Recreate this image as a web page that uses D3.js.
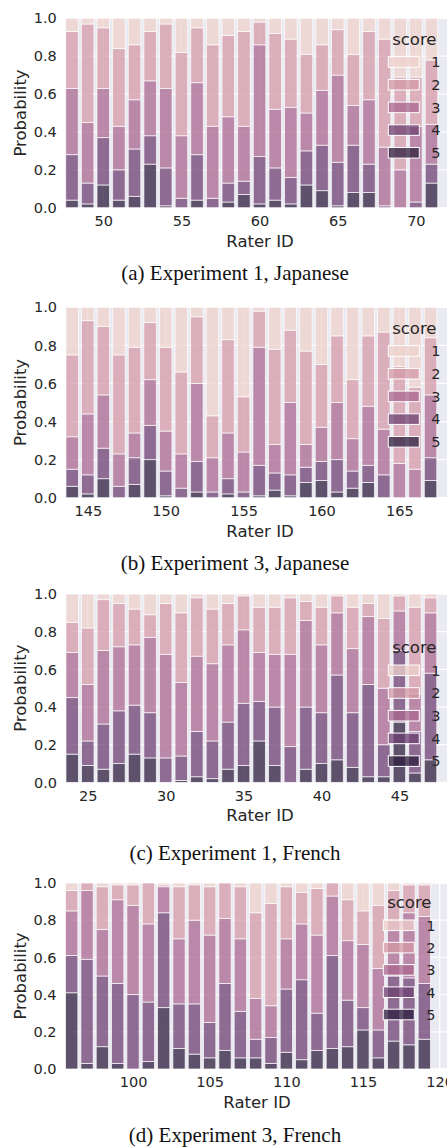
<!DOCTYPE html>
<html>
<head>
<meta charset="utf-8">
<script src="https://cdn.jsdelivr.net/npm/d3@7"></script>
<style>
  body { margin: 0; background: #fff; }
  svg { display: block; }
</style>
</head>
<body>
<svg id="fig" width="447" height="1147"></svg>
<script>
// ---- data ----
const scores = [1, 2, 3, 4, 5];
const yTicks = [0, 0.2, 0.4, 0.6, 0.8, 1.0];

// (a) Experiment 1, Japanese
const ratersA = [48,49,50,51,52,53,54,55,56,57,58,59,60,61,62,63,64,65,66,67,68,69,70,71];
const aScore1 = [.07,.03,.05,.16,.14,.07,.03,.18,.05,.14,.09,.07,.02,.08,.11,.19,.14,.06,.19,.07,.11,.31,.31,.22];
const aScore2 = [.30,.52,.32,.41,.29,.26,.34,.44,.29,.43,.43,.50,.12,.40,.36,.31,.24,.24,.27,.36,.57,.49,.26,.34];
const aScore3 = [.35,.32,.26,.23,.26,.29,.42,.33,.38,.38,.35,.29,.59,.31,.37,.20,.29,.46,.21,.34,.31,.20,.40,.21];
const aScore4 = [.24,.11,.25,.16,.25,.15,.20,.05,.24,.05,.10,.07,.25,.17,.14,.18,.24,.23,.25,.15,.01,.00,.03,.10];
const aScore5 = [.04,.02,.12,.04,.06,.23,.01,.00,.04,.00,.03,.07,.02,.04,.02,.12,.09,.01,.08,.08,.00,.00,.00,.13];

// (b) Experiment 3, Japanese
const ratersB = [144,145,146,147,148,149,150,151,152,153,154,155,156,157,158,159,160,161,162,163,164,165,166,167];
const bScore1 = [.25,.07,.10,.25,.21,.08,.21,.34,.05,.57,.17,.47,.02,.22,.12,.23,.30,.15,.38,.15,.13,.31,.42,.16];
const bScore2 = [.43,.49,.36,.52,.45,.30,.44,.43,.35,.22,.49,.29,.19,.50,.38,.49,.33,.35,.31,.37,.51,.51,.43,.30];
const bScore3 = [.17,.32,.28,.17,.13,.24,.21,.18,.41,.18,.24,.21,.62,.15,.38,.12,.18,.30,.17,.31,.24,.18,.15,.33];
const bScore4 = [.09,.10,.16,.06,.14,.18,.13,.05,.16,.03,.08,.03,.16,.09,.11,.08,.10,.17,.09,.09,.12,.00,.00,.12];
const bScore5 = [.06,.02,.10,.00,.07,.20,.01,.00,.03,.00,.02,.00,.01,.04,.01,.08,.09,.03,.05,.08,.00,.00,.00,.09];

// (c) Experiment 1, French
const ratersC = [24,25,26,27,28,29,30,31,32,33,34,35,36,37,38,39,40,41,42,43,44,45,46,47];
const cScore1 = [.15,.18,.03,.05,.08,.11,.05,.10,.02,.08,.05,.01,.07,.07,.02,.04,.07,.01,.07,.05,.13,.01,.07,.02];
const cScore2 = [.16,.30,.27,.23,.19,.12,.27,.37,.31,.29,.22,.18,.24,.25,.30,.10,.20,.09,.22,.07,.37,.08,.46,.08];
const cScore3 = [.24,.30,.39,.34,.32,.40,.55,.39,.40,.41,.41,.39,.26,.28,.49,.46,.36,.33,.34,.36,.30,.21,.20,.32];
const cScore4 = [.30,.13,.24,.28,.26,.24,.13,.13,.24,.20,.25,.33,.21,.31,.19,.33,.27,.45,.29,.49,.17,.38,.22,.46];
const cScore5 = [.15,.09,.07,.10,.15,.13,.00,.01,.03,.02,.07,.09,.22,.09,.00,.07,.10,.12,.08,.03,.03,.32,.05,.12];

// (d) Experiment 3, French
const ratersD = [96,97,98,99,100,101,102,103,104,105,106,107,108,109,110,111,112,113,114,115,116,117,118,119];
const dScore1 = [.04,.00,.02,.01,.01,.00,.01,.02,.01,.02,.00,.02,.16,.11,.02,.05,.03,.00,.09,.15,.12,.04,.01,.01];
const dScore2 = [.11,.04,.23,.08,.11,.22,.01,.28,.19,.26,.19,.28,.46,.55,.28,.17,.25,.07,.22,.18,.34,.16,.15,.17];
const dScore3 = [.24,.37,.25,.45,.48,.42,.14,.35,.45,.47,.35,.39,.22,.17,.27,.30,.42,.32,.32,.34,.33,.30,.35,.36];
const dScore4 = [.20,.56,.38,.43,.40,.32,.51,.24,.27,.19,.36,.25,.10,.14,.34,.43,.20,.50,.25,.12,.15,.35,.36,.30];
const dScore5 = [.41,.03,.12,.03,.00,.04,.33,.11,.08,.06,.10,.06,.06,.03,.09,.05,.10,.11,.12,.21,.06,.15,.13,.16];

// ---- layout ----
const W = 447;
const panels = [
  { raters: ratersA, probs: [aScore1, aScore2, aScore3, aScore4, aScore5], ticks: [50,55,60,65,70],
    caption: "(a) Experiment 1, Japanese", top: 18.3, bottom: 207.7, c0: 72.0, step: 15.63,
    labelX: 260, capY: 280, legX: 388.3, legTop: 38.4, legStep: 22.7, titleY: 26.7 },
  { raters: ratersB, probs: [bScore1, bScore2, bScore3, bScore4, bScore5], ticks: [145,150,155,160,165],
    caption: "(b) Experiment 3, Japanese", top: 307.3, bottom: 497.7, c0: 72.2, step: 15.58,
    labelX: 260, capY: 570, legX: 388.3, legTop: 38.4, legStep: 22.7, titleY: 26.7 },
  { raters: ratersC, probs: [cScore1, cScore2, cScore3, cScore4, cScore5], ticks: [25,30,35,40,45],
    caption: "(c) Experiment 1, French", top: 594.0, bottom: 782.4, c0: 72.2, step: 15.58,
    labelX: 260, capY: 860, legX: 388.3, legTop: 71.0, legStep: 22.7, titleY: 59.3 },
  { raters: ratersD, probs: [dScore1, dScore2, dScore3, dScore4, dScore5], ticks: [100,105,110,115,120],
    caption: "(d) Experiment 3, French", top: 883.0, bottom: 1069.0, c0: 71.7, step: 15.33,
    labelX: 257, capY: 1142, legX: 383.3, legTop: 37.0, legStep: 22.3, titleY: 25.3 }
];

// seaborn default cubehelix cmap (start 0, rot .4, hue .8, light .85, dark .15)
function cubehelix(l) {
  const a = 0.8 * l * (1 - l) / 2;
  const phi = 2 * Math.PI * (0.4 * l);
  const c = Math.cos(phi), s = Math.sin(phi);
  const cl = v => Math.max(0, Math.min(1, v)) * 255;
  return d3.rgb(cl(l + a * (-0.14861 * c + 1.78277 * s)),
                cl(l + a * (-0.29227 * c - 0.90649 * s)),
                cl(l + a * (1.97294 * c))).formatHex();
}
const color = d3.scaleOrdinal()
  .domain(scores)
  .range(scores.map(k => cubehelix(0.85 - 0.7 * (k - 1) / 4)));

const BG = "#eaeaf2", TXT = "#262626";
const svg = d3.select("#fig");

panels.forEach(function(p) {
  const r0 = p.raters[0];
  const x = d3.scaleLinear().domain([r0, r0 + 1]).range([p.c0, p.c0 + p.step]);
  const y = d3.scaleLinear().domain([0, 1]).range([p.bottom, p.top]);
  const left = x(r0 - 0.4);
  const g = svg.append("g");

  g.append("rect")
    .attr("x", left).attr("y", p.top)
    .attr("width", W - left + 10).attr("height", p.bottom - p.top)
    .attr("fill", BG);

  // grid
  g.selectAll(".hg").data(yTicks).join("line")
    .attr("x1", left).attr("x2", W + 10)
    .attr("y1", d => y(d)).attr("y2", d => y(d))
    .attr("stroke", "#fff").attr("stroke-width", 1.3);
  g.selectAll(".vg").data(p.ticks).join("line")
    .attr("x1", d => x(d)).attr("x2", d => x(d))
    .attr("y1", p.top).attr("y2", p.bottom)
    .attr("stroke", "#fff").attr("stroke-width", 1.3);

  // stacked bars
  const rows = p.raters.map((r, i) => {
    const o = { rater: r };
    scores.forEach((k, j) => { o[k] = p.probs[j][i]; });
    return o;
  });
  const series = d3.stack().keys([5, 4, 3, 2, 1])(rows);
  const bw = p.step * 0.8;

  g.selectAll(".layer").data(series).join("g")
    .attr("fill", d => color(d.key))
    .selectAll("rect").data(d => d).join("rect")
      .attr("x", d => x(d.data.rater) - bw / 2)
      .attr("width", bw)
      .attr("y", d => y(d[1]))
      .attr("height", d => Math.max(0, y(d[0]) - y(d[1])))
      .attr("fill-opacity", 0.75)
      .attr("stroke", "#fff")
      .attr("stroke-opacity", 0.75)
      .attr("stroke-width", 0.9);

  // axes
  const xa = g.append("g")
    .attr("transform", `translate(0,${p.bottom})`)
    .call(d3.axisBottom(x).tickValues(p.ticks).tickFormat(d3.format("d")).tickSize(0).tickPadding(8));
  const ya = g.append("g")
    .attr("transform", `translate(${left},0)`)
    .call(d3.axisLeft(y).tickValues(yTicks).tickFormat(d3.format(".1f")).tickSize(0).tickPadding(9));
  [xa, ya].forEach(a => {
    a.select(".domain").remove();
    a.selectAll("text").attr("font-family", "DejaVu Sans").attr("font-size", 14.5).attr("fill", TXT);
  });

  g.append("text")
    .attr("x", p.labelX).attr("y", p.bottom + 39)
    .attr("text-anchor", "middle")
    .attr("font-family", "DejaVu Sans").attr("font-size", 16.5).attr("fill", TXT)
    .text("Rater ID");
  g.append("text")
    .attr("transform", `translate(26,${(p.top + p.bottom) / 2}) rotate(-90)`)
    .attr("text-anchor", "middle")
    .attr("font-family", "DejaVu Sans").attr("font-size", 16.5).attr("fill", TXT)
    .text("Probability");

  // legend
  const lg = g.append("g").attr("transform", `translate(${p.legX},${p.top})`);
  lg.append("text")
    .attr("x", 26).attr("y", p.titleY)
    .attr("text-anchor", "middle")
    .attr("font-family", "DejaVu Sans").attr("font-size", 16.5).attr("fill", TXT)
    .text("score");
  const item = lg.selectAll(".item").data(scores).join("g")
    .attr("transform", (d, i) => `translate(0,${p.legTop + i * p.legStep})`);
  item.append("rect")
    .attr("width", 31).attr("height", 10.6)
    .attr("fill", d => color(d)).attr("fill-opacity", 0.75)
    .attr("stroke", "#fff").attr("stroke-width", 1);
  item.append("text")
    .attr("x", 43).attr("y", 10.6)
    .attr("font-family", "DejaVu Sans").attr("font-size", 14.5).attr("fill", TXT)
    .text(d => d);

  // caption
  g.append("text")
    .attr("x", 235).attr("y", p.capY)
    .attr("text-anchor", "middle")
    .attr("font-family", "Liberation Serif, Times New Roman, serif").attr("font-size", 21).attr("fill", "#111")
    .text(p.caption);
});
</script>
</body>
</html>
